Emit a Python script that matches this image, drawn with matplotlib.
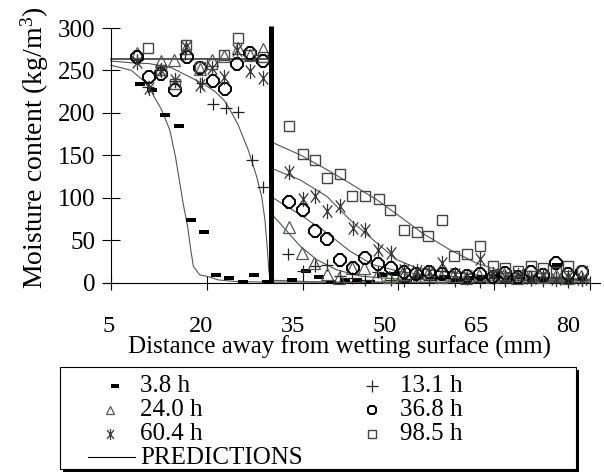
import matplotlib
matplotlib.use('Agg')
import matplotlib.pyplot as plt
from matplotlib.lines import Line2D
from matplotlib.patches import Rectangle
from matplotlib.path import Path

plt.rcParams['font.family'] = ['Liberation Serif', 'DejaVu Serif']
plt.rcParams['mathtext.fontset'] = 'custom'
plt.rcParams['mathtext.rm'] = 'Liberation Serif'
plt.rcParams['mathtext.it'] = 'Liberation Serif:italic'

# ---------------- data ----------------
labels = ['3.8 h', '13.1 h', '24.0 h', '36.8 h', '60.4 h', '98.5 h']

x_38 = [9.5, 11.4, 13.45, 15.65, 17.5, 19.6, 21.5, 23.4, 25.6, 27.4, 29.4, 33.4, 35.6, 37.5, 39.4, 41.6,
        43.5, 45.5, 47.5, 49.4, 51.3, 53.3, 55.2, 57.2, 59.2, 61.1, 63.1, 65.0, 67.0, 69.0, 70.9, 72.8,
        74.8, 76.7, 78.7]
y_38 = [234, 226.5, 198, 185, 74, 60, 8.5, 5.5, 1, 9, 1, 3, 13, 6, 1, 3,
        3, 1, 9, 10, 2, 6, 4, 7, 3, 5, 6, 8, 3, 6, 2, 4,
        21, 3, 5]

x_131 = [9.0, 10.85, 12.7, 15.0, 16.6, 19.2, 21.0, 23.0, 24.9, 27.0, 28.85, 32.75, 35.1, 36.9, 38.8,
         40.8, 42.8, 44.8, 46.8, 48.8, 50.8, 52.8, 54.8, 56.8, 58.8, 60.8, 62.8, 64.8, 66.7, 68.7,
         70.7, 72.7, 74.7, 76.6, 78.7]
y_131 = [262, 230, 250, 237, 269, 235, 210, 205.5, 200.5, 144, 113, 34, 14, 19, 21,
         8, 5, 3, 12, 3, 2, 6, 3, 14, 2, 4, 1, 5, 2, 6,
         3, 2, 5, 1, 3]

x_240 = [9.0, 12.8, 14.9, 16.8, 18.9, 20.8, 22.7, 24.9, 26.8, 28.8, 32.8, 34.9, 36.8, 38.8, 40.7,
         42.7, 44.6, 46.6, 48.6, 50.6, 52.6, 54.6, 56.6, 58.6, 60.6, 62.6, 64.6, 66.6, 68.6, 70.6,
         72.6, 74.6, 76.6, 78.6]
y_240 = [270, 261, 262, 277, 252, 262, 267, 277, 268, 275, 66, 35, 23, 10, 5,
         17, 17, 8, 6, 10, 8, 11, 6, 8, 5, 9, 6, 10, 5, 8,
         6, 9, 5, 8]

x_368 = [9.0, 10.9, 12.8, 15.0, 16.9, 18.9, 20.9, 22.9, 24.8, 26.7, 28.8, 32.8, 35.0, 36.9, 38.8,
         40.9, 42.9, 44.8, 46.8, 48.8, 50.8, 52.8, 54.8, 56.8, 58.8, 60.8, 62.8, 64.8, 66.7, 68.7,
         70.7, 72.7, 74.7, 76.6, 78.7]
y_368 = [266, 242, 246, 227, 266, 253, 237, 228, 257, 270, 261, 95, 86, 61, 51,
         27, 17, 29, 22, 17, 12, 10, 12, 10, 9, 8, 10, 7, 11, 7,
         12, 9, 23, 10, 12]

x_604 = [9.0, 10.9, 12.8, 15.0, 16.8, 18.9, 20.8, 22.7, 24.8, 26.8, 28.8, 32.8, 35.0, 36.9, 38.8,
         40.9, 42.9, 44.8, 46.8, 48.8, 50.9, 52.9, 54.8, 56.9, 58.8, 60.8, 62.8, 64.8, 66.7, 68.7,
         70.7, 72.7, 74.7, 76.6, 78.7]
y_604 = [260, 229, 251, 239, 278, 233, 253, 242, 274, 249, 241, 130, 99, 102, 84,
         90, 64, 62, 38, 35, 15, 14, 12, 23, 10, 8, 28, 10, 6, 9,
         5, 9, 4, 6, 4]

x_985 = [10.85, 12.8, 15.0, 16.8, 18.9, 20.8, 22.7, 24.9, 26.8, 28.8, 32.8, 35.0, 36.9, 38.8, 40.9,
         42.8, 44.8, 46.9, 48.7, 50.9, 52.9, 54.7, 56.9, 58.7, 60.7, 62.8, 64.8, 66.7, 68.7, 70.7,
         72.7, 74.7, 76.6, 78.7]
y_985 = [276.5, 250, 234, 280, 254, 257, 268, 288, 268, 266, 184, 152, 144, 123, 128,
         102, 102, 99, 86, 62, 59, 55, 74, 31, 34, 43, 19, 17, 13, 19,
         17, 12, 19, 13]

# predictions
px_38 = [5, 5.6, 8.2, 10.85, 11.6, 12.9, 14.2, 15.1, 15.6, 16.3, 17.0, 17.5, 17.9, 18.9, 20.2, 21.8,
         24.9, 30.0, 80]
py_38 = [256, 255, 250, 233, 221, 204, 180, 148, 125, 93, 66, 38, 19, 9, 7, 3,
         1, 0.5, 0]
px_131 = [5, 8.2, 11, 14.5, 18.2, 19.7, 21.3, 22.8, 23.6, 24.9, 26.5, 27.8, 28.6, 29.1, 29.5, 29.7,
          29.9, 30.5, 33, 36, 40, 80]
py_131 = [261, 259, 258, 253, 239, 233, 225, 214, 204, 186, 156, 125, 101, 74, 38, 15,
          4, 2.5, 2, 1, 0.3, 0]
px_240 = [5, 30, 30, 31.9, 34.6, 37.2, 40.3, 44, 50, 58, 80]
py_240 = [263.5, 263.5, 82, 66, 43, 27, 15, 7.5, 4, 3, 2]
px_368 = [5, 30, 30, 34.6, 38.8, 42.4, 46, 50.2, 55, 65, 80]
py_368 = [263.5, 263.5, 101.5, 80, 58.5, 37, 21, 13, 8, 5, 3]
px_604 = [5, 30, 30, 34.6, 38.8, 42.4, 46, 49.7, 52.9, 58.1, 65, 80]
py_604 = [263.5, 263.5, 135, 121, 101.5, 74, 50.6, 27, 17, 11.6, 7, 4]
px_985 = [5, 30, 30, 34.6, 38.8, 42.4, 46.6, 50.2, 53.8, 58.1, 62.3, 66.4, 71.1, 80]
py_985 = [263.5, 263.5, 166, 150.5, 133, 117, 97.6, 78, 58, 38.4, 22.6, 12.8, 6.9, 3]

interface_x = 30
xticks = [5, 20, 35, 50, 65, 80]
xtick_labels = ['5', '20', '35', '50', '65', '80']
yticks = [0, 50, 100, 150, 200, 250, 300]
ytick_labels = ['0', '50', '100', '150', '200', '250', '300']

# ---------------- styles ----------------
dash_marker = Path([(-1, -0.45), (1, -0.45), (1, 0.45), (-1, 0.45), (-1, -0.45)],
                   [Path.MOVETO, Path.LINETO, Path.LINETO, Path.LINETO, Path.CLOSEPOLY])
ast_marker = Path([(0, -1), (0, 1), (-0.62, -0.8), (0.62, 0.8), (-0.62, 0.8), (0.62, -0.8)],
                  [Path.MOVETO, Path.LINETO] * 3)

styles = [
    dict(marker=dash_marker, ms=6.5, mfc='black', mec='black', mew=0),
    dict(marker='+', ms=9, mfc='none', mec='#222222', mew=0.9),
    dict(marker='^', ms=8, mfc='none', mec='#555555', mew=0.9),
    dict(marker='8', ms=9, mfc='none', mec='black', mew=1.4),
    dict(marker=ast_marker, ms=11, mfc='none', mec='#333333', mew=0.9),
    dict(marker='s', ms=7.5, mfc='none', mec='#444444', mew=1.0),
]
legend_ms = [5.8, 8, 5.5, 6.5, 8, 6]
legend_dx = [0, 0, -5, 0, -5, 0]

W, H = 604, 472
fig = plt.figure(figsize=(W / 100, H / 100), dpi=100)

xlim = (5 - 8 / 6.387, 80 + 10 / 6.387)
ax = fig.add_axes([103 / W, (H - 282.5) / H, 497 / W, 254.5 / H])
ax.set_xlim(*xlim)
ax.set_ylim(0, 300)

for s in ['top', 'right']:
    ax.spines[s].set_visible(False)
ax.spines['left'].set_position(('data', 5))
ax.spines['left'].set_linewidth(0.8)
ax.spines['bottom'].set_linewidth(0.8)

# predictions
pred_color = '#555555'
ax.plot(px_240, py_240, color='#2f6b2f', lw=0.8, clip_on=False, zorder=2)
for xs, ys in [(px_38, py_38), (px_131, py_131), (px_368, py_368), (px_604, py_604), (px_985, py_985)]:
    ax.plot(xs, ys, color=pred_color, lw=0.8, clip_on=False, zorder=2)

# interface line
ax.plot([interface_x, interface_x], [0, 302], color='black', lw=3.6, clip_on=False, zorder=4,
        solid_capstyle='butt')

series = [(x_38, y_38), (x_131, y_131), (x_240, y_240), (x_368, y_368), (x_604, y_604), (x_985, y_985)]
for (xs, ys), st in zip(series, styles):
    ax.plot(xs, ys, ls='none', clip_on=False, zorder=3, **st)

ax.set_xticks(xticks)
ax.set_xticklabels(['' for _ in xticks])
ax.set_yticks(yticks)
ax.set_yticklabels(ytick_labels)
ax.tick_params(axis='x', direction='inout', length=9.5, width=0.8)
ax.tick_params(axis='y', direction='inout', length=12.5, width=0.8, pad=5, labelsize=18)

# tick labels are drawn slightly compressed toward the left, as in the original export
label_scale = 0.958
label_shift = -0.31
for t, lab in zip(xticks, xtick_labels):
    ax.text(5 + (t - 5) * label_scale + label_shift, -(331.7 - 282.5) / 254.5, lab,
            transform=ax.get_xaxis_transform(), ha='center', va='baseline', fontsize=17.5)

fig.text(339 / W, 1 - 353.5 / H, 'Distance away from wetting surface (mm)', ha='center',
         va='baseline', fontsize=18)
fig.text(35 / W, 1 - 148 / H, 'Moisture content (kg/m$^{3}$)', rotation=90, ha='center',
         va='center', fontsize=20)

# ---------------- legend box ----------------
def fx(p):
    return p / W


def fy(p):
    return 1 - p / H


bx0, bx1, by0, by1 = 60, 576, 367, 469
fig.add_artist(Rectangle((fx(bx0 + 3), fy(by1 + 3)), fx(bx1) - fx(bx0), fy(by0) - fy(by1),
                         transform=fig.transFigure, facecolor='black', edgecolor='black', lw=0))
fig.add_artist(Rectangle((fx(bx0), fy(by1)), fx(bx1) - fx(bx0), fy(by0) - fy(by1),
                         transform=fig.transFigure, facecolor='white', edgecolor='black', lw=0.8))

rows_base = [392.5, 416.5, 440.5]
rows_mark = [386, 410, 434]
col_mark = [115, 372]
col_text = [140, 400]
order = [[0, 2, 4], [1, 3, 5]]
for c in range(2):
    for r in range(3):
        i = order[c][r]
        st = dict(styles[i])
        st['ms'] = legend_ms[i]
        dx = legend_dx[i] if c == 0 else 0
        fig.add_artist(Line2D([fx(col_mark[c] + dx)], [fy(rows_mark[r])], transform=fig.transFigure,
                              ls='none', **st))
        fig.text(fx(col_text[c]), fy(rows_base[r]), labels[i], ha='left', va='baseline',
                 fontsize=18)
fig.add_artist(Line2D([fx(88), fx(135)], [fy(457), fy(457)], transform=fig.transFigure,
                      color='black', lw=0.8))
fig.text(fx(140), fy(464.5), 'PREDICTIONS', ha='left', va='baseline', fontsize=18)

fig.savefig('out.png', dpi=100)
